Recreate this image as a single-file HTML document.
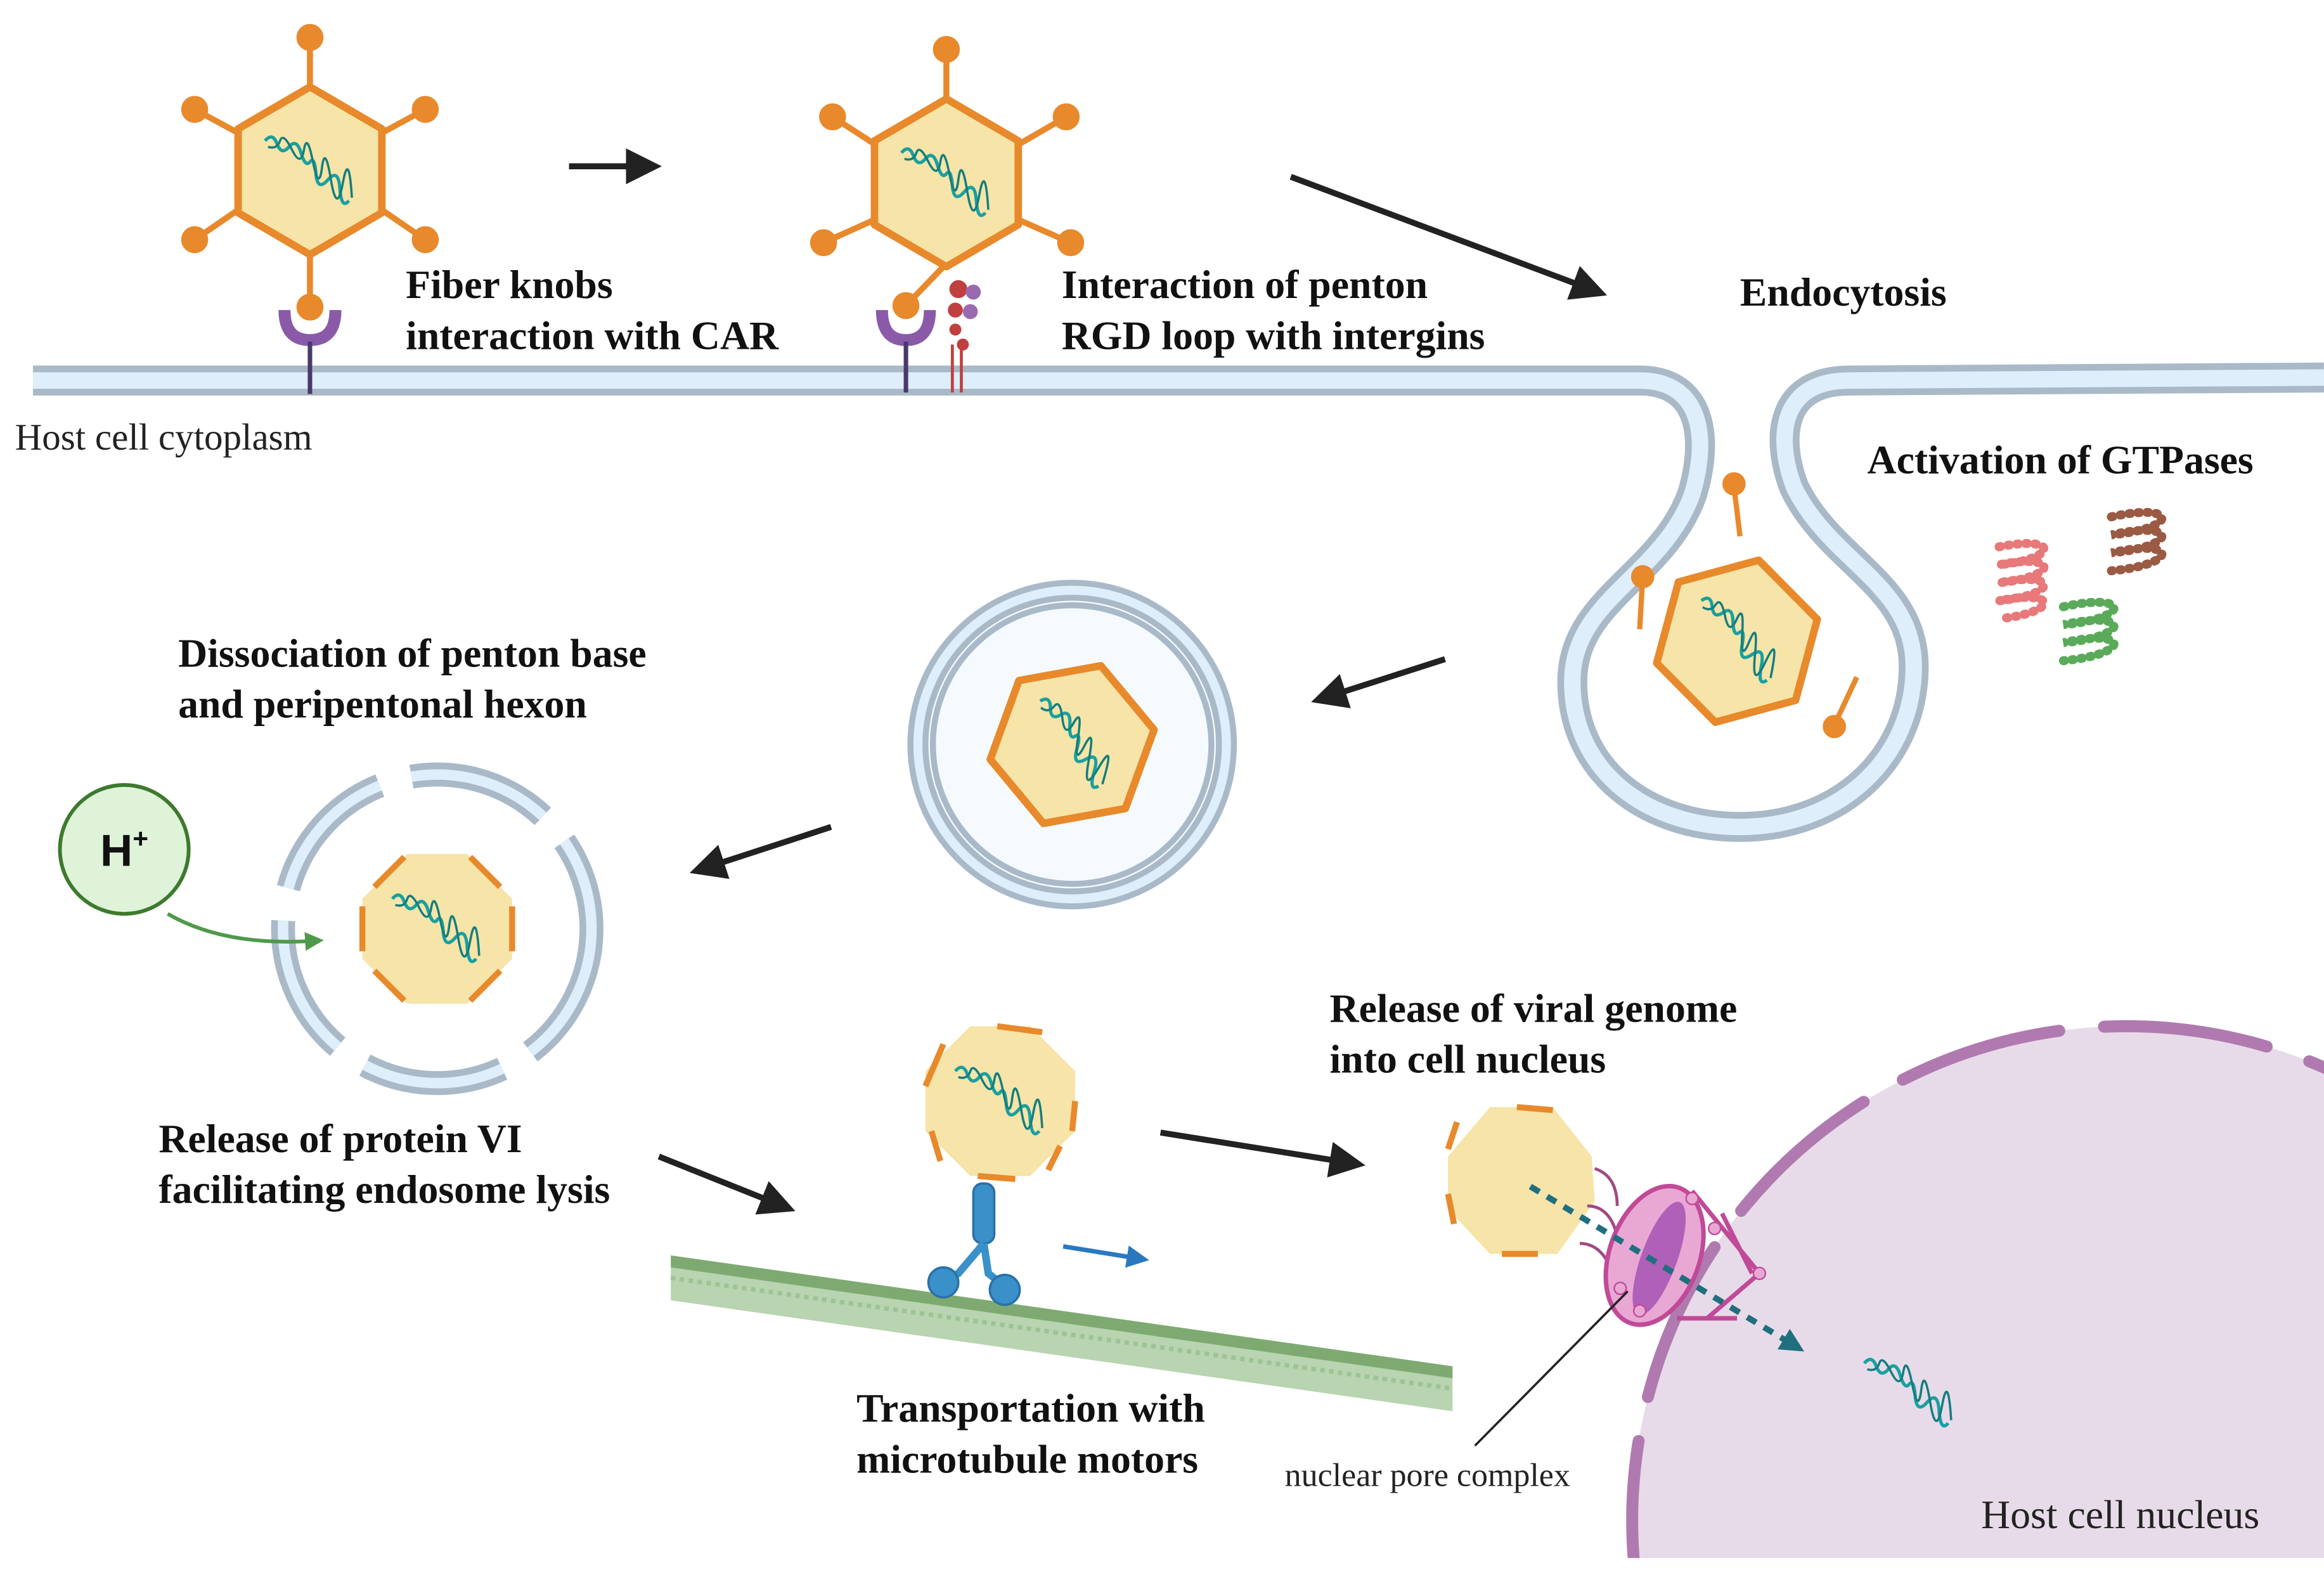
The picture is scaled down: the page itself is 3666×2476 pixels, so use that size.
<!DOCTYPE html>
<html><head><meta charset="utf-8"><style>
html,body{margin:0;padding:0;background:#fff;width:3666px;height:2476px;overflow:hidden}
svg{display:block}
.t{font-family:"Liberation Serif",serif;font-weight:bold;font-size:27px;fill:#111}
.n{font-family:"Liberation Serif",serif;font-size:25px;fill:#222}
</style></head><body>
<svg width="3666" height="2476" viewBox="0 0 1552 1048" preserveAspectRatio="none" xmlns="http://www.w3.org/2000/svg">
<defs>
<marker id="ah" markerWidth="6" markerHeight="6" refX="3" refY="3" orient="auto" markerUnits="strokeWidth"><path d="M0,0 L6,3 L0,6 z" fill="#222"/></marker>
<marker id="ag" markerWidth="5" markerHeight="5" refX="2.5" refY="2.5" orient="auto" markerUnits="strokeWidth"><path d="M0,0 L5,2.5 L0,5 z" fill="#4f9a4a"/></marker>
<marker id="ab" markerWidth="5" markerHeight="5" refX="2.5" refY="2.5" orient="auto" markerUnits="strokeWidth"><path d="M0,0 L5,2.5 L0,5 z" fill="#2a78c0"/></marker>
<marker id="at" markerWidth="4" markerHeight="4" refX="2" refY="2" orient="auto" markerUnits="strokeWidth"><path d="M0,0 L4,2 L0,4 z" fill="#1f6f7f"/></marker>
<g id="dna"><path d="M-30,-20 q5,-6 8,2 t8,2 t8,4 t6,6 t4,8 t8,4 t8,6 t6,8" fill="none" stroke="#1aa0a0" stroke-width="2.2"/><path d="M-28,-16 q6,2 8,-4 t8,6 t8,0 t6,8 t6,4 t6,8 t8,2 t6,10" fill="none" stroke="#147e7e" stroke-width="1.5"/></g>
<g id="hex"><polygon points="0,-56 48,-28 48,28 0,56 -48,28 -48,-28" fill="#f6e4a8" stroke="#e8892b" stroke-width="5" stroke-linejoin="round"/><use href="#dna"/></g>
</defs>

<!-- nucleus -->
<circle cx="1420" cy="1015" r="330" fill="#e8dbe9"/>
<circle cx="1420" cy="1015" r="330" fill="none" stroke="#b07ab0" stroke-width="8" stroke-dasharray="110,30" stroke-linecap="round"/>
<rect x="0" y="1040" width="1552" height="8" fill="#fff"/>

<!-- membrane -->
<path d="M22,254 L1095,254 C1135,254 1142,290 1130,330 C1110,385 1050,400 1050,455 C1050,515 1100,552 1162,552 C1230,552 1278,505 1278,445 C1278,390 1222,375 1198,325 C1185,290 1190,254 1235,254 L1552,252" fill="none" stroke="#a9b9c8" stroke-width="20"/>
<path d="M22,254 L1095,254 C1135,254 1142,290 1130,330 C1110,385 1050,400 1050,455 C1050,515 1100,552 1162,552 C1230,552 1278,505 1278,445 C1278,390 1222,375 1198,325 C1185,290 1190,254 1235,254 L1552,252" fill="none" stroke="#deeefa" stroke-width="11"/>

<!-- virus 1 -->
<g stroke="#e8892b" stroke-width="4" fill="#e8892b">
<line x1="207" y1="58" x2="207" y2="25"/><circle cx="207" cy="25" r="7"/>
<line x1="165" y1="92" x2="130" y2="73"/><circle cx="130" cy="73" r="7"/>
<line x1="249" y1="92" x2="284" y2="73"/><circle cx="284" cy="73" r="7"/>
<line x1="165" y1="136" x2="130" y2="160"/><circle cx="130" cy="160" r="7"/>
<line x1="249" y1="136" x2="284" y2="160"/><circle cx="284" cy="160" r="7"/>
<line x1="207" y1="170" x2="207" y2="205"/><circle cx="207" cy="205" r="7"/>
</g>
<use href="#hex" x="207" y="114"/>
<path d="M190,207 q0,20 17,20 q17,0 17,-20" fill="none" stroke="#8a5aa8" stroke-width="8"/>
<line x1="207" y1="228" x2="207" y2="263" stroke="#4a3a6a" stroke-width="3"/>

<!-- virus 2 -->
<g stroke="#e8892b" stroke-width="4" fill="#e8892b">
<line x1="632" y1="66" x2="632" y2="33"/><circle cx="632" cy="33" r="7"/>
<line x1="590" y1="100" x2="556" y2="78"/><circle cx="556" cy="78" r="7"/>
<line x1="674" y1="100" x2="712" y2="78"/><circle cx="712" cy="78" r="7"/>
<line x1="590" y1="144" x2="550" y2="162"/><circle cx="550" cy="162" r="7"/>
<line x1="674" y1="144" x2="715" y2="162"/><circle cx="715" cy="162" r="7"/>
<line x1="630" y1="178" x2="605" y2="204"/><circle cx="605" cy="204" r="7"/>
</g>
<use href="#hex" x="632" y="122"/>
<path d="M589,207 q0,20 16,20 q16,0 16,-20" fill="none" stroke="#8a5aa8" stroke-width="8"/>
<line x1="605" y1="228" x2="605" y2="262" stroke="#4a3a6a" stroke-width="3"/>
<g><circle cx="640" cy="193" r="6" fill="#c04040"/><circle cx="650" cy="195" r="5" fill="#9a6ab0"/><circle cx="638" cy="207" r="5" fill="#c04040"/><circle cx="648" cy="208" r="5" fill="#9a6ab0"/><circle cx="638" cy="220" r="4" fill="#c04040"/><circle cx="643" cy="230" r="4" fill="#c04040"/><line x1="636" y1="230" x2="636" y2="262" stroke="#c04040" stroke-width="2"/><line x1="642" y1="230" x2="642" y2="262" stroke="#c04040" stroke-width="2"/></g>

<!-- arrows top -->
<line x1="380" y1="111" x2="430" y2="111" stroke="#222" stroke-width="4" marker-end="url(#ah)"/>
<line x1="862" y1="118" x2="1062" y2="193" stroke="#222" stroke-width="4" marker-end="url(#ah)"/>

<!-- endocytosis virus -->
<g stroke="#e8892b" stroke-width="3.5" fill="#e8892b">
<line x1="1158" y1="325" x2="1162" y2="358"/><circle cx="1158" cy="323" r="6"/>
<line x1="1097" y1="385" x2="1095" y2="420"/><circle cx="1097" cy="385" r="6"/>
<line x1="1240" y1="452" x2="1225" y2="484"/><circle cx="1225" cy="485" r="6"/>
</g>
<g transform="translate(1160,428) rotate(15)"><use href="#hex"/></g>

<!-- GTPases -->
<g fill="none" stroke-width="6" stroke-dasharray="1,5" stroke-linecap="round">
<path d="M1335,365 c40,-8 40,8 0,12 c40,-8 40,8 0,12 c40,-8 40,8 0,12 c40,-8 40,8 0,12" stroke="#e8797a"/>
<path d="M1410,345 c45,-10 45,8 0,12 c45,-10 45,8 0,12 c45,-10 45,8 0,12" stroke="#9a5a44"/>
<path d="M1378,405 c45,-10 45,8 0,12 c45,-10 45,8 0,12 c45,-10 45,8 0,12" stroke="#5aaa5a"/>
</g>

<!-- vesicle -->
<circle cx="716" cy="497" r="103" fill="#f5faff" stroke="#a9b9c8" stroke-width="14"/>
<circle cx="716" cy="497" r="103" fill="none" stroke="#deeefa" stroke-width="6"/>
<circle cx="716" cy="497" r="93" fill="none" stroke="#a9b9c8" stroke-width="4"/>
<g transform="translate(716,497) rotate(20)"><use href="#hex"/></g>
<line x1="965" y1="440" x2="887" y2="465" stroke="#222" stroke-width="4" marker-end="url(#ah)"/>
<line x1="555" y1="552" x2="472" y2="579" stroke="#222" stroke-width="4" marker-end="url(#ah)"/>

<!-- broken vesicle -->
<circle cx="292" cy="620" r="103" fill="none" stroke="#a9b9c8" stroke-width="16" stroke-dasharray="95,22"/>
<circle cx="292" cy="620" r="103" fill="none" stroke="#deeefa" stroke-width="7" stroke-dasharray="95,22"/>
<g transform="translate(292,620)">
<polygon points="-20,-50 20,-50 50,-20 50,20 20,50 -20,50 -50,20 -50,-20" fill="#f6e4a8"/>
<g stroke="#e8892b" stroke-width="4"><line x1="-22" y1="-48" x2="-42" y2="-28"/><line x1="22" y1="-48" x2="42" y2="-28"/><line x1="-50" y1="-15" x2="-50" y2="15"/><line x1="50" y1="-15" x2="50" y2="15"/><line x1="-22" y1="48" x2="-42" y2="28"/><line x1="22" y1="48" x2="42" y2="28"/></g>
<use href="#dna"/></g>
<circle cx="83" cy="567" r="43" fill="#dff3d9" stroke="#3d7a2e" stroke-width="2.5"/>
<text x="83" y="578" text-anchor="middle" style="font-family:'Liberation Sans',sans-serif;font-weight:bold;font-size:30px;fill:#111">H<tspan dy="-12" font-size="18">+</tspan></text>
<path d="M112,610 Q150,632 210,628" fill="none" stroke="#4f9a4a" stroke-width="2.5" marker-end="url(#ag)"/>

<!-- microtubule -->
<polygon points="448,838 970,912 970,942 448,868" fill="#b8d4b0"/>
<polygon points="448,838 970,912 970,920 448,846" fill="#7eaa72"/>
<line x1="448" y1="853" x2="970" y2="927" stroke="#9ec394" stroke-width="3" stroke-dasharray="3,3"/>

<!-- motor -->
<g fill="#3a90c8" stroke="#2a70a8" stroke-width="1.5">
<rect x="650" y="790" width="14" height="40" rx="6"/>
<path d="M657,830 L640,850 L630,855" fill="none" stroke="#3a90c8" stroke-width="5"/>
<path d="M657,830 L660,850 L670,858" fill="none" stroke="#3a90c8" stroke-width="5"/>
<ellipse cx="630" cy="856" rx="10" ry="10"/><ellipse cx="671" cy="861" rx="10" ry="10"/></g>
<g transform="translate(668,735)">
<polygon points="-20,-50 20,-50 50,-20 50,20 20,50 -20,50 -50,20 -50,-20" fill="#f6e4a8"/>
<g stroke="#e8892b" stroke-width="4"><line x1="-2" y1="-50" x2="28" y2="-46"/><line x1="-50" y1="-10" x2="-38" y2="-38"/><line x1="50" y1="0" x2="48" y2="20"/><line x1="-46" y1="20" x2="-40" y2="40"/><line x1="-15" y1="50" x2="10" y2="52"/><line x1="40" y1="30" x2="32" y2="46"/></g>
<use href="#dna"/></g>
<line x1="440" y1="772" x2="520" y2="804" stroke="#222" stroke-width="4" marker-end="url(#ah)"/>
<line x1="775" y1="756" x2="900" y2="776" stroke="#222" stroke-width="4" marker-end="url(#ah)"/>
<line x1="710" y1="832" x2="760" y2="840" stroke="#2a78c0" stroke-width="3" marker-end="url(#ab)"/>

<!-- virus 4 + NPC -->
<g transform="translate(1015,787)">
<polygon points="-20,-48 22,-48 48,-15 50,15 25,50 -20,50 -48,20 -48,-15" fill="#f6e4a8"/>
<g stroke="#e8892b" stroke-width="4"><line x1="-2" y1="-48" x2="22" y2="-46"/><line x1="-48" y1="-20" x2="-42" y2="-38"/><line x1="-48" y1="10" x2="-44" y2="30"/><line x1="-12" y1="50" x2="12" y2="50"/></g></g>
<g>
<path d="M1065,780 q15,5 15,25 M1060,805 q15,0 20,20 M1055,830 q15,0 22,20" fill="none" stroke="#a04a80" stroke-width="2"/>
<ellipse cx="1105" cy="838" rx="30" ry="48" fill="#e9a8d4" stroke="#c04a98" stroke-width="3" transform="rotate(20 1105 838)"/>
<ellipse cx="1108" cy="840" rx="12" ry="40" fill="#b060b8" transform="rotate(20 1108 840)"/>
<path d="M1130,795 L1175,850 L1140,880 M1150,810 L1170,850 M1120,880 L1160,880" fill="none" stroke="#c04a98" stroke-width="3"/>
<circle cx="1130" cy="800" r="4" fill="#e9a8d4" stroke="#c04a98"/><circle cx="1145" cy="820" r="4" fill="#e9a8d4" stroke="#c04a98"/><circle cx="1175" cy="850" r="4" fill="#e9a8d4" stroke="#c04a98"/><circle cx="1095" cy="875" r="4" fill="#e9a8d4" stroke="#c04a98"/><circle cx="1082" cy="860" r="4" fill="#e9a8d4" stroke="#c04a98"/>
</g>
<line x1="1022" y1="792" x2="1198" y2="898" stroke="#1f6f7f" stroke-width="4" stroke-dasharray="7,6" marker-end="url(#at)"/>
<use href="#dna" x="1275" y="930"/>
<line x1="985" y1="965" x2="1087" y2="862" stroke="#222" stroke-width="1.5"/>

<!-- text -->
<text class="t" x="271" y="199">Fiber knobs</text>
<text class="t" x="271" y="233">interaction with CAR</text>
<text class="t" x="709" y="199">Interaction of penton</text>
<text class="t" x="709" y="233">RGD loop with intergins</text>
<text class="t" x="1162" y="204">Endocytosis</text>
<text class="n" x="10" y="300">Host cell cytoplasm</text>
<text class="t" x="1247" y="316">Activation of GTPases</text>
<text class="t" x="119" y="445">Dissociation of penton base</text>
<text class="t" x="119" y="479">and peripentonal hexon</text>
<text class="t" x="106" y="769">Release of  protein VI</text>
<text class="t" x="106" y="803">facilitating endosome lysis</text>
<text class="t" x="888" y="682">Release of viral genome</text>
<text class="t" x="888" y="716">into cell nucleus</text>
<text class="t" x="572" y="949">Transportation with</text>
<text class="t" x="572" y="983">microtubule motors</text>
<text class="n" x="858" y="992" style="font-size:22px">nuclear pore complex</text>
<text class="n" x="1323" y="1020" style="font-size:27px">Host cell nucleus</text>
</svg>
</body></html>
